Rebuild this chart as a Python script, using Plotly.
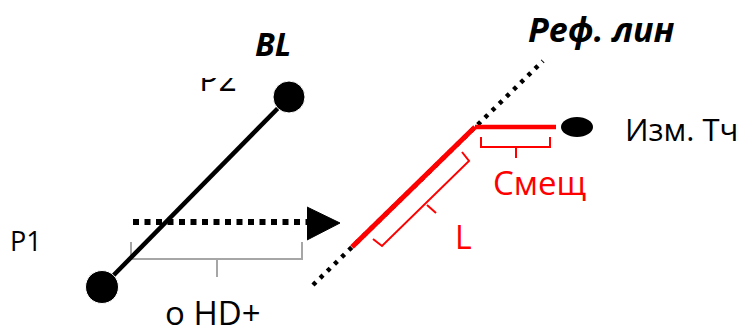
import plotly.graph_objects as go

W, H = 746, 327
PAGE_MARGIN = 8  # default body margin of the written html page

# diagram points (pixel space, y grows downward)
p1 = [102, 287]
p2 = [289, 97]
arrow_x = [133, 307]
arrow_y = 222
arrow_head = [[307, 207], [340, 223], [307, 240]]
hd_bracket = [[131, 242], [131, 259], [302, 259], [302, 242]]
hd_tick = [[217, 259], [217, 277]]

ref_line = [[313, 285], [543, 61]]
red_diag = [[352, 247], [475, 127]]
red_horiz = [[475, 127], [556, 127]]
meas_point = [577, 127]
meas_size = [32, 20]
l_bracket = [[462, 152], [469, 161], [382, 246], [373, 239]]
l_tick = [[427, 205], [436, 213]]
shift_bracket = [[481, 137], [481, 147], [550, 147], [550, 137]]
shift_tick = [[516, 147], [516, 158]]

labels = ["BL", "P1", "o HD+", "Реф. лин", "Изм. Тч", "Смещ", "L"]
# left edge and vertical middle of each label
label_pos = [[253, 43], [8, 240], [163, 312],
             [526, 29], [623, 129], [491, 182], [453, 236]]
p2_label = "P2"
p2_label_pos = [218, 83]

RED = "#ff0000"
GRAY = "#a6a6a6"
FONT = "Open Sans"


def xs(pts):
    return [p[0] for p in pts]


def ys(pts):
    return [p[1] for p in pts]


def line(pts, color, width, dash="solid"):
    return go.Scatter(x=xs(pts), y=ys(pts), mode="lines",
                      line=dict(color=color, width=width, dash=dash),
                      hoverinfo="skip", showlegend=False)


fig = go.Figure()

# left part: baseline P1-P2 and dotted arrow
fig.add_trace(line([[arrow_x[0], arrow_y], [arrow_x[1], arrow_y]], "black", 6, "6px,5.5px"))
fig.add_trace(go.Scatter(x=xs(arrow_head), y=ys(arrow_head), mode="lines", fill="toself",
                         fillcolor="black", line=dict(color="black", width=1),
                         hoverinfo="skip", showlegend=False))
fig.add_trace(line(hd_bracket, GRAY, 2))
fig.add_trace(line(hd_tick, GRAY, 2))
fig.add_trace(line([p1, p2], "black", 4.5))
fig.add_trace(go.Scatter(x=[p1[0], p2[0]], y=[p1[1], p2[1]], mode="markers",
                         marker=dict(color="black", size=[33, 32], opacity=1),
                         hoverinfo="skip", showlegend=False))
fig.add_trace(go.Scatter(x=[p2_label_pos[0]], y=[p2_label_pos[1]], mode="text",
                         text=[p2_label], textposition="middle center",
                         textfont=dict(family=FONT, size=32, color="black"),
                         hoverinfo="skip", showlegend=False))

# right part: reference line, offset and length
fig.add_trace(line(ref_line, "black", 4.5, "4px,6px"))
fig.add_trace(line(red_diag, RED, 5))
fig.add_trace(line(red_horiz, RED, 4.5))
fig.add_trace(line(l_bracket, RED, 2))
fig.add_trace(line(l_tick, RED, 2))
fig.add_trace(line(shift_bracket, RED, 2))
fig.add_trace(line(shift_tick, RED, 2))

fig.add_shape(type="circle", xref="x", yref="y",
              x0=meas_point[0] - meas_size[0] / 2, x1=meas_point[0] + meas_size[0] / 2,
              y0=meas_point[1] - meas_size[1] / 2, y1=meas_point[1] + meas_size[1] / 2,
              fillcolor="black", line=dict(color="black", width=0))

styles = {
    "BL": dict(size=32, color="black", weight="bold", style="italic"),
    "P1": dict(size=27, color="black"),
    "o HD+": dict(size=33, color="black"),
    "Реф. лин": dict(size=34, color="black", weight="bold", style="italic"),
    "Изм. Тч": dict(size=31, color="black"),
    "Смещ": dict(size=33, color=RED),
    "L": dict(size=32, color=RED),
}
for text, (x, y) in zip(labels, label_pos):
    fig.add_annotation(x=x, y=y, xref="x", yref="y", text=text, showarrow=False,
                       xanchor="left", yanchor="middle",
                       font=dict(family=FONT, **styles[text]))

# top of the P2 label is cut off in the source picture
fig.add_shape(type="rect", xref="x", yref="y", x0=192, x1=248, y0=58, y1=78,
              fillcolor="white", line=dict(width=0), layer="above")

# the page body keeps its 8px margin, so the axes are offset to keep
# data units equal to screen pixels
fig.update_xaxes(range=[PAGE_MARGIN, W], visible=False)
fig.update_yaxes(range=[H, PAGE_MARGIN], visible=False)
fig.update_layout(width=W - PAGE_MARGIN, height=H - PAGE_MARGIN,
                  margin=dict(l=0, r=0, t=0, b=0),
                  plot_bgcolor="white", paper_bgcolor="white")

fig.write_html("out.html")
